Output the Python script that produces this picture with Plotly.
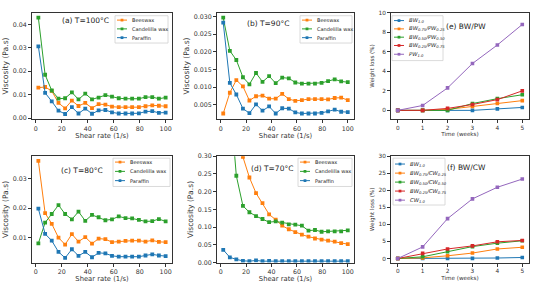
import plotly.graph_objects as go
from plotly.subplots import make_subplots

shear_rate = [2.0, 7.2, 12.3, 17.5, 22.6, 27.8, 32.9, 38.1, 43.3, 48.4,
              53.6, 58.7, 63.9, 69.1, 74.2, 79.4, 84.5, 89.7, 94.8, 100.0]

a_beeswax = [0.0130, 0.0133, 0.0116, 0.0065, 0.0042, 0.0075, 0.0052, 0.0065, 0.0043, 0.0060,
             0.0058, 0.0049, 0.0047, 0.0047, 0.0047, 0.0047, 0.0051, 0.0055, 0.0053, 0.0051]
a_candelilla = [0.0428, 0.0185, 0.0118, 0.0083, 0.0085, 0.0110, 0.0080, 0.0105, 0.0080, 0.0088,
                0.0098, 0.0092, 0.0085, 0.0083, 0.0083, 0.0083, 0.0090, 0.0090, 0.0083, 0.0088]
a_paraffin = [0.0306, 0.0108, 0.0072, 0.0032, 0.0018, 0.0047, 0.0020, 0.0041, 0.0019, 0.0033,
              0.0035, 0.0025, 0.0020, 0.0020, 0.0020, 0.0021, 0.0028, 0.0030, 0.0023, 0.0024]

b_beeswax = [0.0025, 0.0084, 0.0120, 0.0102, 0.0062, 0.0074, 0.0076, 0.0067, 0.0067, 0.0081,
             0.0066, 0.0061, 0.0063, 0.0066, 0.0066, 0.0066, 0.0065, 0.0069, 0.0070, 0.0063]
b_candelilla = [0.0297, 0.0203, 0.0177, 0.0128, 0.0108, 0.0140, 0.0115, 0.0131, 0.0111, 0.0127,
                0.0125, 0.0113, 0.0110, 0.0110, 0.0110, 0.0112, 0.0117, 0.0122, 0.0116, 0.0114]
b_paraffin = [0.0283, 0.0112, 0.0079, 0.0039, 0.0026, 0.0051, 0.0033, 0.0045, 0.0025, 0.0040,
              0.0039, 0.0028, 0.0025, 0.0025, 0.0025, 0.0027, 0.0031, 0.0036, 0.0030, 0.0029]

c_beeswax = [0.0359, 0.0183, 0.0147, 0.0100, 0.0077, 0.0112, 0.0087, 0.0102, 0.0080, 0.0097,
             0.0095, 0.0085, 0.0087, 0.0089, 0.0090, 0.0090, 0.0087, 0.0091, 0.0086, 0.0085]
c_candelilla = [0.0081, 0.0151, 0.0180, 0.0210, 0.0180, 0.0162, 0.0188, 0.0157, 0.0177, 0.0169,
                0.0159, 0.0162, 0.0172, 0.0166, 0.0165, 0.0160, 0.0155, 0.0156, 0.0163, 0.0155]
c_paraffin = [0.0198, 0.0113, 0.0090, 0.0052, 0.0032, 0.0061, 0.0039, 0.0052, 0.0034, 0.0049,
              0.0047, 0.0039, 0.0036, 0.0036, 0.0036, 0.0036, 0.0040, 0.0044, 0.0040, 0.0038]

d_beeswax = [0.75, 0.55, 0.40, 0.298, 0.240, 0.196, 0.168, 0.136, 0.121, 0.104,
             0.094, 0.086, 0.079, 0.073, 0.068, 0.065, 0.062, 0.059, 0.055, 0.052]
d_candelilla = [0.70, 0.47, 0.245, 0.160, 0.142, 0.131, 0.123, 0.114, 0.116, 0.113,
                0.108, 0.107, 0.104, 0.090, 0.092, 0.087, 0.088, 0.088, 0.088, 0.091]
d_paraffin = [0.036, 0.015, 0.009, 0.005, 0.004, 0.006, 0.004, 0.005, 0.004, 0.004,
              0.004, 0.004, 0.004, 0.004, 0.004, 0.004, 0.004, 0.004, 0.004, 0.004]

weeks = [0, 1, 2, 3, 4, 5]
e_bw10 = [0, 0, 0, 0, 0.15, 0.3]
e_bw75_pw25 = [0, 0, 0.1, 0.4, 0.7, 1.0]
e_bw50_pw50 = [0, 0, 0, 0.7, 1.2, 1.6]
e_bw25_pw75 = [0, 0, 0.2, 0.6, 1.1, 2.0]
e_pw10 = [0, 0.5, 2.3, 4.8, 6.7, 8.8]

f_bw10 = [0, 0, 0, 0.05, 0.15, 0.3]
f_bw75_cw25 = [0, 0.2, 0.8, 1.6, 2.8, 3.3]
f_bw50_cw50 = [0, 0.5, 2.0, 3.5, 4.5, 5.2]
f_bw25_cw75 = [0, 1.5, 2.8, 3.7, 4.9, 5.3]
f_cw10 = [0, 3.4, 11.7, 17.5, 20.9, 23.3]

wax_names = ["Beeswax", "Candelilla wax", "Paraffin"]
e_names = ["BW<sub>1.0</sub>", "BW<sub>0.75</sub>/PW<sub>0.25</sub>",
           "BW<sub>0.50</sub>/PW<sub>0.50</sub>", "BW<sub>0.25</sub>/PW<sub>0.75</sub>",
           "PW<sub>1.0</sub>"]
f_names = ["BW<sub>1.0</sub>", "BW<sub>0.75</sub>/CW<sub>0.25</sub>",
           "BW<sub>0.50</sub>/CW<sub>0.50</sub>", "BW<sub>0.25</sub>/CW<sub>0.75</sub>",
           "CW<sub>1.0</sub>"]
panel_titles = ["(a) T=100°C", "(b) T=90°C", "(e) BW/PW", "(c) T=80°C", "(d) T=70°C", "(f) BW/CW"]

BLUE, ORANGE, GREEN, RED, PURPLE = "#1f77b4", "#ff7f0e", "#2ca02c", "#d62728", "#9467bd"
WAX_COLORS = [ORANGE, GREEN, BLUE]
MIX_COLORS = [BLUE, ORANGE, GREEN, RED, PURPLE]
FONT = "DejaVu Sans"
W, H = 536, 290

fig = make_subplots(rows=2, cols=3)

visc_panels = [
    (1, 1, [a_beeswax, a_candelilla, a_paraffin]),
    (1, 2, [b_beeswax, b_candelilla, b_paraffin]),
    (2, 1, [c_beeswax, c_candelilla, c_paraffin]),
    (2, 2, [d_beeswax, d_candelilla, d_paraffin]),
]
for r, c, series in visc_panels:
    for name, vals, col in zip(wax_names, series, WAX_COLORS):
        fig.add_trace(go.Scatter(x=shear_rate, y=vals, name=name, mode="lines+markers",
                                 line=dict(color=col, width=1),
                                 marker=dict(color=col, size=3.8, symbol="square"),
                                 showlegend=False), row=r, col=c)

for r, c, series, names in [
        (1, 3, [e_bw10, e_bw75_pw25, e_bw50_pw50, e_bw25_pw75, e_pw10], e_names),
        (2, 3, [f_bw10, f_bw75_cw25, f_bw50_cw50, f_bw25_cw75, f_cw10], f_names)]:
    for name, vals, col in zip(names, series, MIX_COLORS):
        fig.add_trace(go.Scatter(x=weeks, y=vals, name=name, mode="lines+markers",
                                 line=dict(color=col, width=1),
                                 marker=dict(color=col, size=3.6, symbol="square"),
                                 showlegend=False), row=r, col=c)

cols_px = [(32, 172), (217, 354), (391, 529)]
rows_px = [(9, 118), (156, 265)]

axis_common = dict(showline=True, linecolor="#333", linewidth=0.8, mirror=True,
                   ticks="outside", ticklen=3, tickwidth=0.8, tickcolor="#333",
                   showgrid=False, zeroline=False)

yranges = [(-0.0004, 0.0449), (0.0009, 0.0311), (-0.9, 10),
           (0.0016, 0.0375), (0.0, 0.30), (-1.2, 30)]
ydticks = [0.01, 0.005, 2, 0.01, 0.05, 5]
yfmts = [".2f", ".3f", "d", ".2f", ".2f", "d"]

for i in range(6):
    r, c = divmod(i, 3)
    x0, x1 = cols_px[c]
    y0, y1 = rows_px[r]
    xa = "xaxis" if i == 0 else f"xaxis{i+1}"
    ya = "yaxis" if i == 0 else f"yaxis{i+1}"
    weight = (c == 2)
    tsize = 5.8 if weight else 6.3
    fig.layout[xa].update(axis_common)
    fig.layout[ya].update(axis_common)
    fig.layout[xa].update(domain=[x0 / W, x1 / W],
                          tickfont=dict(family=FONT, size=tsize, color="#333"))
    fig.layout[ya].update(domain=[1 - y1 / H, 1 - y0 / H],
                          tickfont=dict(family=FONT, size=tsize, color="#333"),
                          range=list(yranges[i]), dtick=ydticks[i], tickformat=yfmts[i])
    if weight:
        fig.layout[xa].update(range=[-0.27, 5.27], dtick=1,
                              title=dict(text="Time (weeks)", standoff=2,
                                         font=dict(family=FONT, size=5.6, color="#333")))
        fig.layout[ya].update(title=dict(text="Weight loss (%)", standoff=3,
                                         font=dict(family=FONT, size=5.6, color="#333")))
    else:
        fig.layout[xa].update(range=[-2.9, 104.9], dtick=20, tickformat="d",
                              title=dict(text="Shear rate (1/s)", standoff=2,
                                         font=dict(family=FONT, size=6.8, color="#333")))
        fig.layout[ya].update(title=dict(text="Viscosity (Pa.s)", standoff=3,
                                         font=dict(family=FONT, size=7.6, color="#333")))

title_pos = [(0.38, 0.93), (0.37, 0.90), (0.54, 0.87), (0.36, 0.87), (0.405, 0.887), (0.545, 0.89)]
for i, (t, (tx, ty)) in enumerate(zip(panel_titles, title_pos)):
    sfx = "" if i == 0 else str(i + 1)
    fig.add_annotation(text=t, x=tx, y=ty, xref=f"x{sfx} domain", yref=f"y{sfx} domain",
                       showarrow=False, xanchor="center", yanchor="middle",
                       font=dict(family=FONT, size=7.5, color="#222"))


# compact legends (matplotlib-style key boxes), positioned in pixels
def px(x):
    return x / W


def py(y):
    return 1 - y / H


def add_key(box, names, colors, row_y, fsize=5.0, italic=False):
    bx0, by0, bx1, by1 = box
    fig.add_shape(type="rect", xref="paper", yref="paper",
                  x0=px(bx0), x1=px(bx1), y0=py(by1), y1=py(by0),
                  line=dict(color="#d0d0d0", width=0.8), fillcolor="rgba(255,255,255,0.85)",
                  layer="above")
    for name, col, yy in zip(names, colors, row_y):
        fig.add_shape(type="line", xref="paper", yref="paper",
                      x0=px(bx0 + 2), x1=px(bx0 + 12), y0=py(yy), y1=py(yy),
                      line=dict(color=col, width=1), layer="above")
        fig.add_shape(type="rect", xref="paper", yref="paper",
                      x0=px(bx0 + 5.6), x1=px(bx0 + 8.4), y0=py(yy + 1.4), y1=py(yy - 1.4),
                      line=dict(color=col, width=0), fillcolor=col, layer="above")
        fig.add_annotation(text=name, xref="paper", yref="paper", x=px(bx0 + 14.5), y=py(yy),
                           xanchor="left", yanchor="middle", showarrow=False,
                           font=dict(family=FONT, size=fsize, color="#222",
                                     style="italic" if italic else "normal"))


add_key((115, 12, 168, 40), wax_names, WAX_COLORS, [16.5, 25.5, 34.5])
add_key((300, 12, 352, 40), wax_names, WAX_COLORS, [16.5, 25.5, 34.5])
add_key((113, 158, 170, 187), wax_names, WAX_COLORS, [162, 171.5, 181])
add_key((298, 158, 352, 187), wax_names, WAX_COLORS, [162, 171.5, 181])
add_key((392, 12, 443, 58), e_names, MIX_COLORS, [17, 25.5, 34, 42.5, 51.5], fsize=5.3, italic=True)
add_key((393, 158, 445, 206), f_names, MIX_COLORS, [164, 173.3, 182.5, 191.7, 201], fsize=5.3, italic=True)

fig.update_layout(width=W, height=H, margin=dict(l=0, r=0, t=0, b=0),
                  plot_bgcolor="white", paper_bgcolor="white", showlegend=False,
                  font=dict(family=FONT))

fig.write_html("out.html", config={"displayModeBar": False},
               post_script="document.body.style.margin='0';document.body.style.padding='0';")
